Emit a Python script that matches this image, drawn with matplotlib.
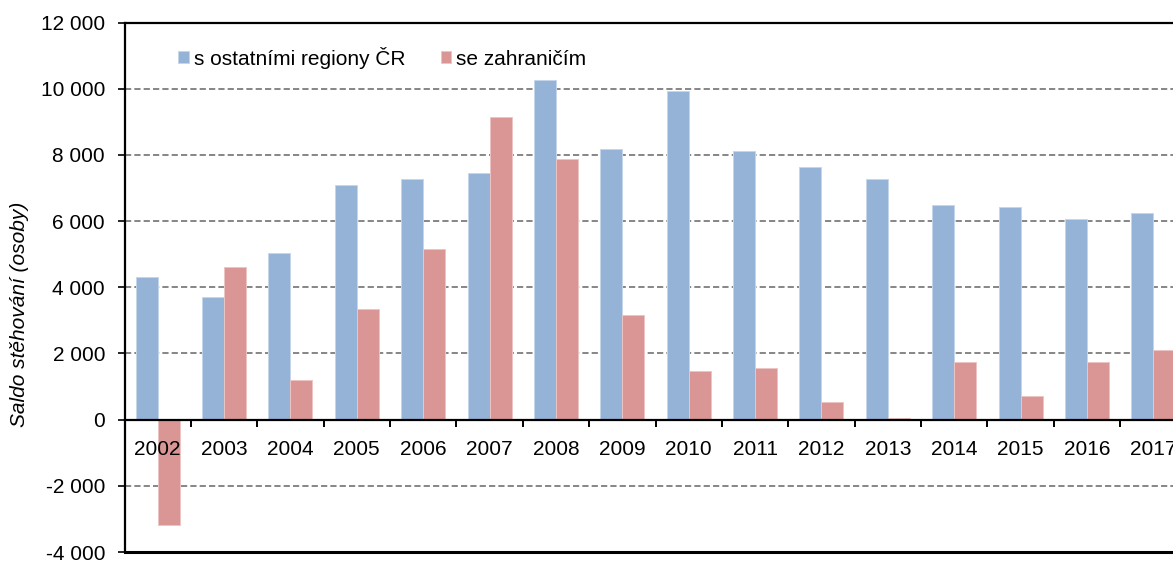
import matplotlib.pyplot as plt
import numpy as np

plt.rcParams['font.family'] = ['Liberation Sans', 'DejaVu Sans']

years = ['2002', '2003', '2004', '2005', '2006', '2007', '2008', '2009',
         '2010', '2011', '2012', '2013', '2014', '2015', '2016', '2017']
regiony = [4320, 3720, 5050, 7100, 7280, 7460, 10280, 8180,
           9940, 8130, 7650, 7280, 6490, 6430, 6070, 6250]
zahranici = [-3170, 4620, 1190, 3340, 5170, 9150, 7880, 3170,
             1480, 1550, 520, 40, 1730, 700, 1730, 2090]
yticks = list(range(-4000, 12001, 2000))

fs = 15

fig = plt.figure(figsize=(11.73, 5.61), dpi=100)
# axes runs a bit past the right edge, like the cropped original
ax = fig.add_axes([124.5 / 1173, 1 - 552.0 / 561, 1062.0 / 1173, (552.0 - 22.6) / 561])

x = np.arange(len(years))
w = 0.332
ax.bar(x - w / 2, regiony, w, color='#95B3D7', edgecolor='#C5D6EB', linewidth=0.7,
       label='s ostatními regiony ČR', zorder=1)
ax.bar(x + w / 2, zahranici, w, color='#D99694', edgecolor='#EBC4C3', linewidth=0.7,
       label='se zahraničím', zorder=1)

ax.set_xlim(-0.5, len(years) - 0.5)
ax.set_ylim(-4000, 12000)
ax.set_yticks(yticks)
ax.set_yticklabels([f'{v:,}'.replace(',', ' ') for v in yticks])
# grid drawn by hand so it sits under the bars while the tick labels stay on top
for v in yticks[1:-1]:
    if v != 0:
        ax.axhline(v, color='#868686', linestyle=(0, (3.2, 1.6)), linewidth=1.4, zorder=0.5)

# zero line carries the category ticks
ax.spines['bottom'].set_position(('data', 0))
ax.spines['bottom'].set_linewidth(1.6)
ax.spines['left'].set_linewidth(1.6)
ax.spines['top'].set_linewidth(1.6)
ax.spines['right'].set_visible(False)
ax.axhline(-4000, color='black', linewidth=2.2, clip_on=False, zorder=3)

ax.set_xticks(np.arange(len(years) + 1) - 0.5)
ax.set_xticklabels([])
ax.set_xticks(x, minor=True)
ax.set_xticklabels(years, minor=True)
ax.tick_params(axis='x', which='major', direction='out', length=5, width=1.4)
ax.tick_params(axis='x', which='minor', length=0, pad=15, labelsize=fs)
ax.tick_params(axis='y', direction='out', length=5, width=1.2, labelsize=fs, pad=9)

ax.set_ylabel('Saldo stěhování (osoby)', fontsize=fs, style='italic')
ax.yaxis.set_label_coords(-0.090, 0.449)

ax.legend(loc='upper left', bbox_to_anchor=(0.033, 0.99), ncol=2, frameon=False,
          fontsize=fs, handlelength=0.5, handleheight=0.5, handletextpad=0.25,
          columnspacing=1.7)

fig.savefig('out.png', dpi=100)
